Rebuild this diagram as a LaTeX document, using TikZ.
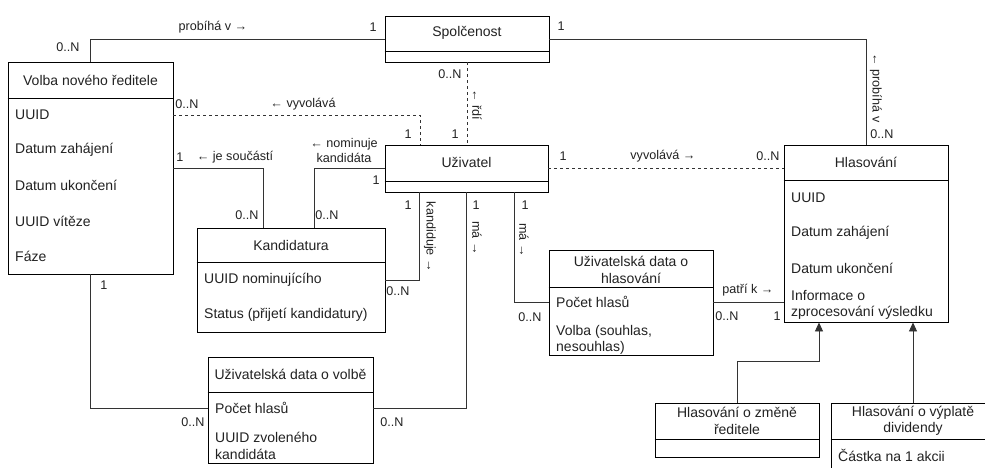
\documentclass[tikz,border=0pt]{standalone}
\usepackage{fontspec}
\setmainfont{Liberation Sans}
\usetikzlibrary{arrows.meta}
\definecolor{cara}{HTML}{333333}
\definecolor{pismo}{HTML}{222222}
\tikzset{
  trida/.style={draw=black, line width=0.9pt, fill=white, rectangle, inner sep=0pt},
  hlav/.style={text=pismo, font=\fontsize{14}{16.5}\selectfont, align=center, inner sep=0pt},
  attr/.style={text=pismo, font=\fontsize{14}{16.5}\selectfont, align=left, anchor=west, inner sep=0pt},
  spoj/.style={draw=cara, line width=0.9pt},
  prer/.style={spoj, dash pattern=on 3pt off 3pt},
  lbl/.style={text=pismo, font=\fontsize{12.6}{15}\selectfont, inner sep=0pt},
  dedi/.style={spoj, -{Triangle[width=8pt,length=9pt]}},
}
\begin{document}
\begin{tikzpicture}[x=1pt, y=-1pt]
  \useasboundingbox (0,0) rectangle (985,468);
  \fill[white] (0,0) rectangle (985,468);
  \clip (0,0) rectangle (985,468);

  % tridy
  \node[trida, minimum width=164pt, minimum height=46pt] (spol) at (467,39) {};
  \node[trida, minimum width=165pt, minimum height=212pt] (volba) at (90.5,168) {};
  \node[trida, minimum width=163pt, minimum height=47pt] (uziv) at (466.5,168.5) {};
  \node[trida, minimum width=164pt, minimum height=177pt] (hlas) at (866,233.5) {};
  \node[trida, minimum width=188pt, minimum height=104pt] (kand) at (291,280) {};
  \node[trida, minimum width=164pt, minimum height=105pt] (udh) at (631,302.5) {};
  \node[trida, minimum width=165pt, minimum height=106pt] (udv) at (290.5,410) {};
  \node[trida, minimum width=164pt, minimum height=54pt] (hzr) at (737,430) {};
  \node[trida, minimum width=164pt, minimum height=90pt] (hvd) at (913,448) {};

  % hlavicky a delici cary
  \node[hlav] (spolH) at (467,33) {Spolčenost};
  \draw (spol.west |- 0,51) -- (spol.east |- 0,51);
  \node[hlav] (volbaH) at (90.5,80) {Volba nového ředitele};
  \draw (volba.west |- 0,98) -- (volba.east |- 0,98);
  \node[hlav] (uzivH) at (466.5,162) {Uživatel};
  \draw (uziv.west |- 0,181) -- (uziv.east |- 0,181);
  \node[hlav] (hlasH) at (866,162) {Hlasování};
  \draw (hlas.west |- 0,180) -- (hlas.east |- 0,180);
  \node[hlav] (kandH) at (291,245) {Kandidatura};
  \draw (kand.west |- 0,262) -- (kand.east |- 0,262);
  \node[hlav] (udhH) at (631,270) {Uživatelská data o\\hlasování};
  \draw (udh.west |- 0,287) -- (udh.east |- 0,287);
  \node[hlav] (udvH) at (290.5,374) {Uživatelská data o volbě};
  \draw (udv.west |- 0,392) -- (udv.east |- 0,392);
  \node[hlav] (hzrH) at (737,421) {Hlasování o změně\\ředitele};
  \draw (hzr.west |- 0,439) -- (hzr.east |- 0,439);
  \node[hlav] (hvdH) at (913,421) {Hlasování o výplatě\\dividendy};
  \draw (hvd.west |- 0,439) -- (hvd.east |- 0,439);

  % atributy
  \node[attr] (v1) at (15,115) {UUID};
  \node[attr] (v2) at (15,150) {Datum zahájení};
  \node[attr] (v3) at (15,185) {Datum ukončení};
  \node[attr] (v4) at (15,221) {UUID vítěze};
  \node[attr] (v5) at (15,256) {Fáze};
  \node[attr] (a1) at (791,198) {UUID};
  \node[attr] (a2) at (791,233) {Datum zahájení};
  \node[attr] (a3) at (791,268) {Datum ukončení};
  \node[attr] (a4) at (791,305) {Informace o\\zprocesování výsledku};
  \node[attr] (k1) at (204,280) {UUID nominujícího};
  \node[attr] (k2) at (204,315) {Status (přijetí kandidatury)};
  \node[attr] (h1) at (556,302) {Počet hlasů};
  \node[attr] (h2) at (556,340) {Volba (souhlas,\\nesouhlas)};
  \node[attr] (w1) at (215,408) {Počet hlasů};
  \node[attr] (w2) at (215,446) {UUID zvoleného\\kandidáta};
  \node[attr] (d1) at (838,455) {Částka na 1 akcii};

  % vazby
  \draw[spoj] (spol.west) -| (volba.north);
  \node[lbl] (t1) at (213,27) {probíhá v →};
  \node[lbl] (t2) at (373,27) {1};
  \node[lbl] (t3) at (68,47) {0..N};

  \draw[spoj] (spol.east) -| (hlas.north);
  \node[lbl] (t4) at (561,26) {1};
  \node[lbl, rotate=-90] (t5) at (876,88) {← probíhá v};
  \node[lbl] (t6) at (882,134) {0..N};

  \draw[prer] (spol.south) -- (spol.south |- uziv.north);
  \node[lbl] (t7) at (450,74) {0..N};
  \node[lbl, rotate=-90] (t8) at (477,105) {← řdí};
  \node[lbl] (t9) at (455,134) {1};

  \draw[prer] (volba.east |- v1) -| ([xshift=-46.5pt]uziv.north);
  \node[lbl] (t10) at (187,104) {0..N};
  \node[lbl] (t11) at (303,104) {← vyvolává};
  \node[lbl] (t12) at (408,134) {1};

  \draw[prer] (uziv.east) -- (uziv.east -| hlas.west);
  \node[lbl] (t13) at (563,156) {1};
  \node[lbl] (t14) at (663,156) {vyvolává →};
  \node[lbl] (t15) at (768,156) {0..N};

  \draw[spoj] (uziv.west) -| ([xshift=23pt]kand.north);
  \node[lbl, align=center] (t16) at (344,150) {← nominuje\\kandidáta};
  \node[lbl] (t17) at (376,180) {1};
  \node[lbl] (t18) at (327,215) {0..N};

  \draw[spoj] (volba.east) -| ([xshift=-28pt]kand.north);
  \node[lbl] (t19) at (180,157) {1};
  \node[lbl] (t20) at (235,157) {← je součástí};
  \node[lbl] (t21) at (247,215) {0..N};

  \draw[spoj] ([xshift=-47.5pt]uziv.south) |- (kand.east);
  \node[lbl] (t22) at (408,205) {1};
  \node[lbl, rotate=-90] (t23) at (430,237) {kandiduje →};
  \node[lbl] (t24) at (398,291) {0..N};

  \draw[spoj] (uziv.south) |- (udv.east |- w1);
  \node[lbl] (t25) at (476,205) {1};
  \node[lbl, rotate=-90] (t26) at (477,238) {má →};
  \node[lbl] (t27) at (392,422) {0..N};

  \draw[spoj] ([xshift=47.5pt]uziv.south) |- (udh.west);
  \node[lbl] (t28) at (525,205) {1};
  \node[lbl, rotate=-90] (t29) at (524,240) {má →};
  \node[lbl] (t30) at (530,317) {0..N};

  \draw[spoj] (udh.east) -- (udh.east -| hlas.west);
  \node[lbl] (t31) at (748,290) {patří k →};
  \node[lbl] (t32) at (727,316) {0..N};
  \node[lbl] (t33) at (777,316) {1};

  \draw[spoj] (volba.south) |- (udv.west |- w1);
  \node[lbl] (t34) at (104,285) {1};
  \node[lbl] (t35) at (193,422) {0..N};

  % dedicnost
  \draw[dedi] (hzr.north) -- ++(0,-41) -| ([xshift=-47pt]hlas.south);
  \draw[dedi] (hvd.north) -- (hvd.north |- hlas.south);
\end{tikzpicture}
\end{document}
